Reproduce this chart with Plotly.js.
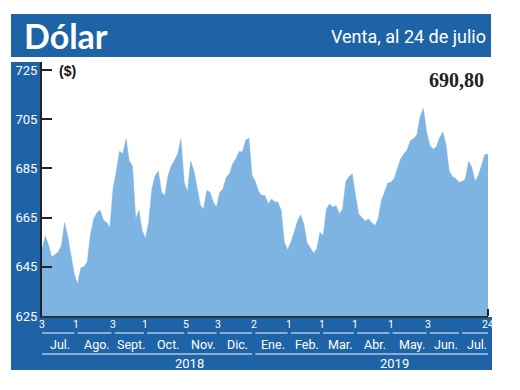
<!DOCTYPE html>
<html><head><meta charset="utf-8">
<script src="https://cdn.plot.ly/plotly-3.0.1.min.js"></script>
<style>html,body{margin:0;padding:0;background:#fff}#chart{width:520px;height:390px}</style>
</head><body><div id="chart"></div>
<script>
// ---- data ----
const startDate = '2018-07-03';          // first trading day shown
const stepBusinessDays = 2;              // one value every 2 trading days
const values = [
 652,657.5,654,649,650,651,653.5,663,657,650,642,638,644.5,645,647,658,664.5,667,668,664,
 663,661,677,684,692,691,697,688,686,664.5,668,659.7,656.6,663,676.7,682,684,675.3,674,682,
 686,688.3,691,697,679.4,675.3,688,684,677.4,670,668.5,676,675.3,671.3,669.2,675.3,676.7,681.5,682.8,686.9,
 689,691.9,691.7,696.4,697.4,682.1,679.7,675.6,674,674,670.6,672.6,671.5,671.3,667.9,654.9,651.9,654.9,659,663.4,
 666.2,662.4,654.9,652.9,650.6,652.2,659,657.7,668.5,670.6,669.2,669.9,666.5,668.5,679.7,681.7,682.8,674,666.5,665,
 663.6,664.5,663.1,661.7,664.5,672,675.3,679.1,679.4,681,685.1,689,691,692.6,696.4,697.1,698.7,706,709.4,699.8,
 694.4,692.8,693.7,697.4,699.8,694.7,683.8,681.7,680.9,679.4,679.7,680.8,687.9,685.5,679.7,682.1,686.2,690.6,690.8
];
const monthStarts = ['2018-07-03','2018-08-01','2018-09-03','2018-10-01','2018-11-05','2018-12-03','2019-01-02',
                     '2019-02-01','2019-03-01','2019-04-01','2019-05-01','2019-06-03','2019-07-01','2019-07-24'];
const tickDates  = ['2018-07-03','2018-08-01','2018-09-03','2018-10-01','2018-11-05','2018-12-03','2019-01-02',
                    '2019-02-01','2019-03-01','2019-04-01','2019-05-01','2019-06-03','2019-07-24'];
const tickLabels = ['3','1','3','1','5','3','2','1','1','1','1','3','24'];
const monthLabels = ['Jul.','Ago.','Sept.','Oct.','Nov.','Dic.','Ene.','Feb.','Mar.','Abr.','May.','Jun.','Jul.'];
const yearLabels = ['2018','2019'];
const yearBounds = [['2018-07-03','2019-01-02'],['2019-01-02','2019-07-24']];
const yearLabelDates = ['2018-11-07','2019-05-03'];
const yTicks = [625,645,665,685,705,725];
const titleText = 'Dólar';
const subtitleText = 'Venta, al 24 de julio';
const unitText = '($)';
const lastValueText = '690,80';

// ---- business-day helpers ----
function parse(s){const [y,m,d]=s.split('-').map(Number);return new Date(Date.UTC(y,m-1,d));}
function fmt(dt){return dt.toISOString().slice(0,10);}
function addBdays(s,n){let dt=parse(s);let k=0;while(k<n){dt=new Date(dt.getTime()+864e5);const w=dt.getUTCDay();if(w!==0&&w!==6)k++;}return fmt(dt);}
function bdayIndex(s){let dt=parse(startDate),t=parse(s),k=0;while(dt<t){dt=new Date(dt.getTime()+864e5);const w=dt.getUTCDay();if(w!==0&&w!==6)k++;}return k;}
const dates = values.map((v,i)=>addBdays(startDate,i*stepBusinessDays));

// ---- geometry helpers (pixel -> paper) ----
const W=520,H=390,L=42,R=32,T=62,B=74;
const pw=W-L-R, ph=H-T-B;
const px=x=>(x-L)/pw, py=y=>(H-B-y)/ph;

const BLUE='#1f63a7', FILL='#7db4e2', LINEC='#a9c8ea';
const COND='Roboto, sans-serif';

const shapes=[
 {type:'rect',xref:'paper',yref:'paper',x0:px(11),x1:px(491),y0:py(57),y1:py(14),fillcolor:BLUE,line:{width:0},layer:'below'},
 {type:'rect',xref:'paper',yref:'paper',x0:px(11),x1:px(41),y0:py(370),y1:py(62),fillcolor:BLUE,line:{width:0},layer:'below'},
 {type:'rect',xref:'paper',yref:'paper',x0:px(11),x1:px(492),y0:py(370),y1:py(317),fillcolor:BLUE,line:{width:0},layer:'below'},
 {type:'line',xref:'paper',yref:'paper',x0:1,x1:1,y0:0,y1:py(309),line:{color:'#222',width:2}}
];
const annotations=[
 {text:titleText,xref:'paper',yref:'paper',x:px(22),y:py(36),xanchor:'left',yanchor:'middle',showarrow:false,
  font:{family:'Lato, sans-serif',size:34,color:'#fff',weight:'bold'}},
 {text:subtitleText,xref:'paper',yref:'paper',x:px(488),y:py(37),xanchor:'right',yanchor:'middle',showarrow:false,
  font:{family:COND,size:18,color:'#fff'}},
 {text:unitText,xref:'paper',yref:'paper',x:px(57),y:py(71),xanchor:'left',yanchor:'middle',showarrow:false,
  font:{family:'Liberation Sans, sans-serif',size:14,color:'#111',weight:'bold'}},
 {text:lastValueText,xref:'paper',yref:'paper',x:px(486),y:py(80),xanchor:'right',yanchor:'middle',showarrow:false,
  font:{family:'Liberation Serif, serif',size:20,color:'#222',weight:'bold'}}
];
// tick numbers
tickDates.forEach((d,i)=>annotations.push({text:tickLabels[i],xref:'x',yref:'paper',x:d,y:py(324),xanchor:'center',yanchor:'middle',
  showarrow:false,font:{family:COND,size:10.5,color:'#fff'}}));
// month segments + labels
for(let i=0;i<monthLabels.length;i++){
  const a=bdayIndex(monthStarts[i]), b=bdayIndex(monthStarts[i+1]);
  const s=i===0?a:a+1, e=i===monthLabels.length-1?b:b-1;
  shapes.push({type:'line',xref:'x',yref:'paper',x0:addBdays(startDate,s),x1:addBdays(startDate,e),y0:py(333),y1:py(333),line:{color:LINEC,width:1.5}});
  annotations.push({text:monthLabels[i],xref:'x',yref:'paper',x:addBdays(startDate,Math.round((s+e)/2+1)),y:py(344),xanchor:'center',yanchor:'middle',
    showarrow:false,font:{family:COND,size:12.5,color:'#fff'}});
}
// year segments + labels
yearLabels.forEach((yl,i)=>{
  const a=bdayIndex(yearBounds[i][0]), b=bdayIndex(yearBounds[i][1]);
  const s=i===0?a:a+1, e=i===yearLabels.length-1?b:b-1;
  shapes.push({type:'line',xref:'x',yref:'paper',x0:addBdays(startDate,s),x1:addBdays(startDate,e),y0:py(354),y1:py(354),line:{color:LINEC,width:1.5}});
  annotations.push({text:yl,xref:'x',yref:'paper',x:yearLabelDates[i],y:py(363),xanchor:'center',yanchor:'middle',
    showarrow:false,font:{family:COND,size:13,color:'#fff'}});
});

const trace={x:dates,y:values,type:'scatter',mode:'lines',fill:'tozeroy',fillcolor:FILL,line:{color:FILL,width:0.5},hoverinfo:'skip'};

const layout={
 width:W,height:H,margin:{l:L,r:R,t:T,b:B,pad:0},paper_bgcolor:'#fff',plot_bgcolor:'#fff',showlegend:false,
 xaxis:{type:'date',range:[startDate,'2019-07-24'],rangebreaks:[{bounds:['sat','mon']}],showticklabels:false,ticks:'',
   showgrid:false,zeroline:false,showline:true,linecolor:'#333',linewidth:2,fixedrange:true},
 yaxis:{range:[625,728.3],tickvals:yTicks,ticktext:yTicks.map(String),ticks:'inside',ticklen:10,tickwidth:2,tickcolor:'#222',
   showgrid:false,zeroline:false,showline:true,linecolor:'#222',linewidth:2,tickfont:{family:COND,size:13,color:'#fff'},
   ticklabelstandoff:0,fixedrange:true},
 shapes:shapes,annotations:annotations
};
Plotly.newPlot('chart',[trace],layout,{staticPlot:true,displayModeBar:false});
</script></body></html>
